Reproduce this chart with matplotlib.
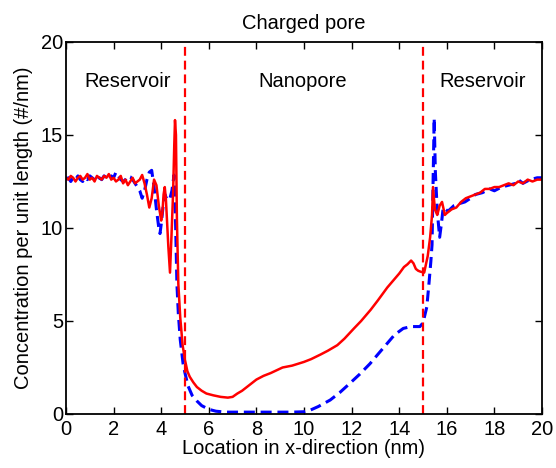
import matplotlib
matplotlib.use("Agg")
import matplotlib.pyplot as plt

plt.rcParams['font.family'] = ['Liberation Sans', 'DejaVu Sans']

# Red solid series
red_x = [0.0, 0.1, 0.2, 0.3, 0.4, 0.5, 0.6, 0.7, 0.8, 0.9, 1.0, 1.1, 1.2, 1.3, 1.4, 1.5,
         1.6, 1.7, 1.8, 1.9, 2.0, 2.1, 2.2, 2.3, 2.4, 2.5, 2.6, 2.7, 2.8, 2.9, 3.0,
         3.1, 3.2, 3.3, 3.4, 3.5, 3.6, 3.7, 3.8, 3.9, 4.0, 4.05, 4.1, 4.15, 4.2, 4.3,
         4.37, 4.43, 4.5, 4.55, 4.58, 4.62, 4.66, 4.72, 4.8, 4.9, 5.0, 5.1, 5.2, 5.35,
         5.5, 5.7, 5.9, 6.2, 6.5, 6.8, 7.0, 7.2, 7.4, 7.6, 7.8, 8.0, 8.3, 8.6, 9.1,
         9.5, 10.0, 10.3, 10.7, 11.0, 11.4, 11.7, 12.1, 12.4, 12.8, 13.1, 13.5, 13.8,
         14.0, 14.2, 14.35, 14.5, 14.6, 14.7, 14.8, 14.9, 15.05, 15.2, 15.3, 15.38,
         15.42, 15.5, 15.6, 15.7, 15.8, 15.92, 16.0, 16.2, 16.4, 16.6, 16.8, 17.0,
         17.2, 17.4, 17.6, 17.8, 18.0, 18.2, 18.4, 18.6, 18.8, 19.0, 19.2, 19.4,
         19.6, 19.8, 20.0]
red_y = [12.7, 12.6, 12.8, 12.7, 12.5, 12.7, 12.8, 12.6, 12.7, 12.9, 12.6, 12.7, 12.5, 12.8, 12.7, 12.6,
         12.8, 12.7, 12.9, 12.6, 12.7, 12.5, 12.6, 12.8, 12.4, 12.6, 12.3, 12.5, 12.7, 12.4, 12.5,
         12.6, 12.85, 12.4, 11.8, 11.1, 11.6, 12.6, 12.3, 11.2, 10.4, 10.8, 11.8, 12.2, 11.5, 9.0,
         7.6, 9.5, 11.9, 14.5, 15.8, 15.0, 10.5, 7.0, 5.2, 3.7, 2.9, 2.3, 2.0, 1.7,
         1.45, 1.25, 1.1, 1.0, 0.92, 0.88, 0.92, 1.1, 1.25, 1.45, 1.65, 1.85, 2.05, 2.2, 2.5,
         2.6, 2.8, 2.95, 3.2, 3.4, 3.7, 4.05, 4.6, 5.0, 5.6, 6.1, 6.8, 7.25,
         7.55, 7.9, 8.05, 8.25, 8.1, 7.8, 7.7, 7.65, 7.6, 8.5, 9.5, 10.7,
         12.2, 11.0, 10.7, 11.2, 11.4, 10.7, 10.8, 11.0, 11.1, 11.4, 11.6, 11.7,
         11.8, 11.9, 12.1, 12.1, 12.2, 12.2, 12.3, 12.4, 12.3, 12.5, 12.4, 12.6,
         12.5, 12.6, 12.6]

# Blue dashed series
blue_x = [0.0, 0.1, 0.2, 0.3, 0.4, 0.5, 0.6, 0.7, 0.8, 0.9, 1.0, 1.1, 1.2, 1.3, 1.4, 1.5,
          1.6, 1.7, 1.8, 1.9, 2.0, 2.1, 2.2, 2.3, 2.4, 2.5, 2.6, 2.7, 2.8, 2.9, 3.0,
          3.1, 3.2, 3.3, 3.4, 3.5, 3.6, 3.7, 3.8, 3.9, 3.95, 4.0, 4.1, 4.16, 4.25, 4.37,
          4.45, 4.54, 4.6, 4.66, 4.72, 4.8, 4.92, 5.0, 5.13, 5.3, 5.5, 5.7, 6.0, 6.3,
          6.7, 7.5, 8.5, 9.5, 10.0, 10.25, 10.6, 11.1, 11.5, 11.93, 12.35, 12.77, 13.1,
          13.5, 13.8, 14.17, 14.5, 14.87, 15.0, 15.16, 15.25, 15.33, 15.38, 15.42, 15.47,
          15.52, 15.6, 15.7, 15.78, 15.85, 16.05, 16.3, 16.5, 16.76, 17.0, 17.2, 17.5,
          17.8, 18.0, 18.3, 18.6, 18.9, 19.0, 19.2, 19.5, 19.8, 20.0]
blue_y = [12.6, 12.7, 12.5, 12.7, 12.6, 12.8, 12.6, 12.5, 12.7, 12.6, 12.8, 12.7, 12.6, 12.5, 12.7, 12.6,
          12.8, 12.7, 12.6, 12.8, 12.7, 13.0, 12.8, 12.6, 12.5, 12.6, 12.8, 12.75, 12.6, 12.4, 12.2,
          12.0, 11.6, 12.0, 12.6, 13.0, 13.1, 12.2, 11.0, 10.0, 9.7, 10.2, 11.4, 11.8, 11.5, 11.6,
          12.0, 12.85, 10.5, 7.0, 5.4, 4.0, 2.7, 2.2, 1.5, 1.0, 0.7, 0.45, 0.25, 0.15,
          0.1, 0.1, 0.1, 0.1, 0.12, 0.2, 0.4, 0.75, 1.15, 1.65, 2.15, 2.7, 3.2,
          3.8, 4.25, 4.6, 4.7, 4.7, 4.9, 5.75, 7.0, 8.2, 9.1, 12.2, 15.9,
          13.0, 10.9, 9.5, 10.3, 11.1, 10.9, 11.2, 11.3, 11.4, 11.6, 11.8, 11.9,
          12.1, 12.0, 12.2, 12.3, 12.4, 12.6, 12.4, 12.6, 12.7, 12.7]

boundaries = [5, 15]
region_labels = ["Reservoir", "Nanopore", "Reservoir"]
region_x = [2.6, 9.95, 17.5]
region_y = 17.6

fig = plt.figure(figsize=(5.56, 4.68), dpi=100)
ax = fig.add_axes([0.1187, 0.1154, 0.8561, 0.7949])

ax.plot(blue_x, blue_y, color='#0000ff', linestyle=(0, (3.6, 1.9)), linewidth=2.2)
ax.plot(red_x, red_y, color='#ff0000', linestyle='-', linewidth=1.8)
for b in boundaries:
    ax.axvline(b, color='#ff0000', linestyle=(0, (4, 2.2)), linewidth=1.6)

for lab, xx in zip(region_labels, region_x):
    ax.text(xx, region_y, lab, ha='center', va='baseline', fontsize=14.5)

ax.set_xlim(0, 20)
ax.set_ylim(0, 20)
ax.set_xticks(range(0, 21, 2))
ax.set_yticks(range(0, 21, 5))
ax.tick_params(direction='in', top=True, right=True, length=5, width=1.0,
               labelsize=14.5)
ax.tick_params(axis='x', pad=4.5)
ax.tick_params(axis='y', pad=2)
for s in ax.spines.values():
    s.set_linewidth(1.3)

ax.set_title("Charged pore", fontsize=14.5, pad=9)
ax.set_xlabel("Location in x-direction (nm)", fontsize=14.5, labelpad=0)
ax.set_ylabel("Concentration per unit length (#/nm)", fontsize=14.5, labelpad=6)

fig.savefig("out.png", dpi=100)
